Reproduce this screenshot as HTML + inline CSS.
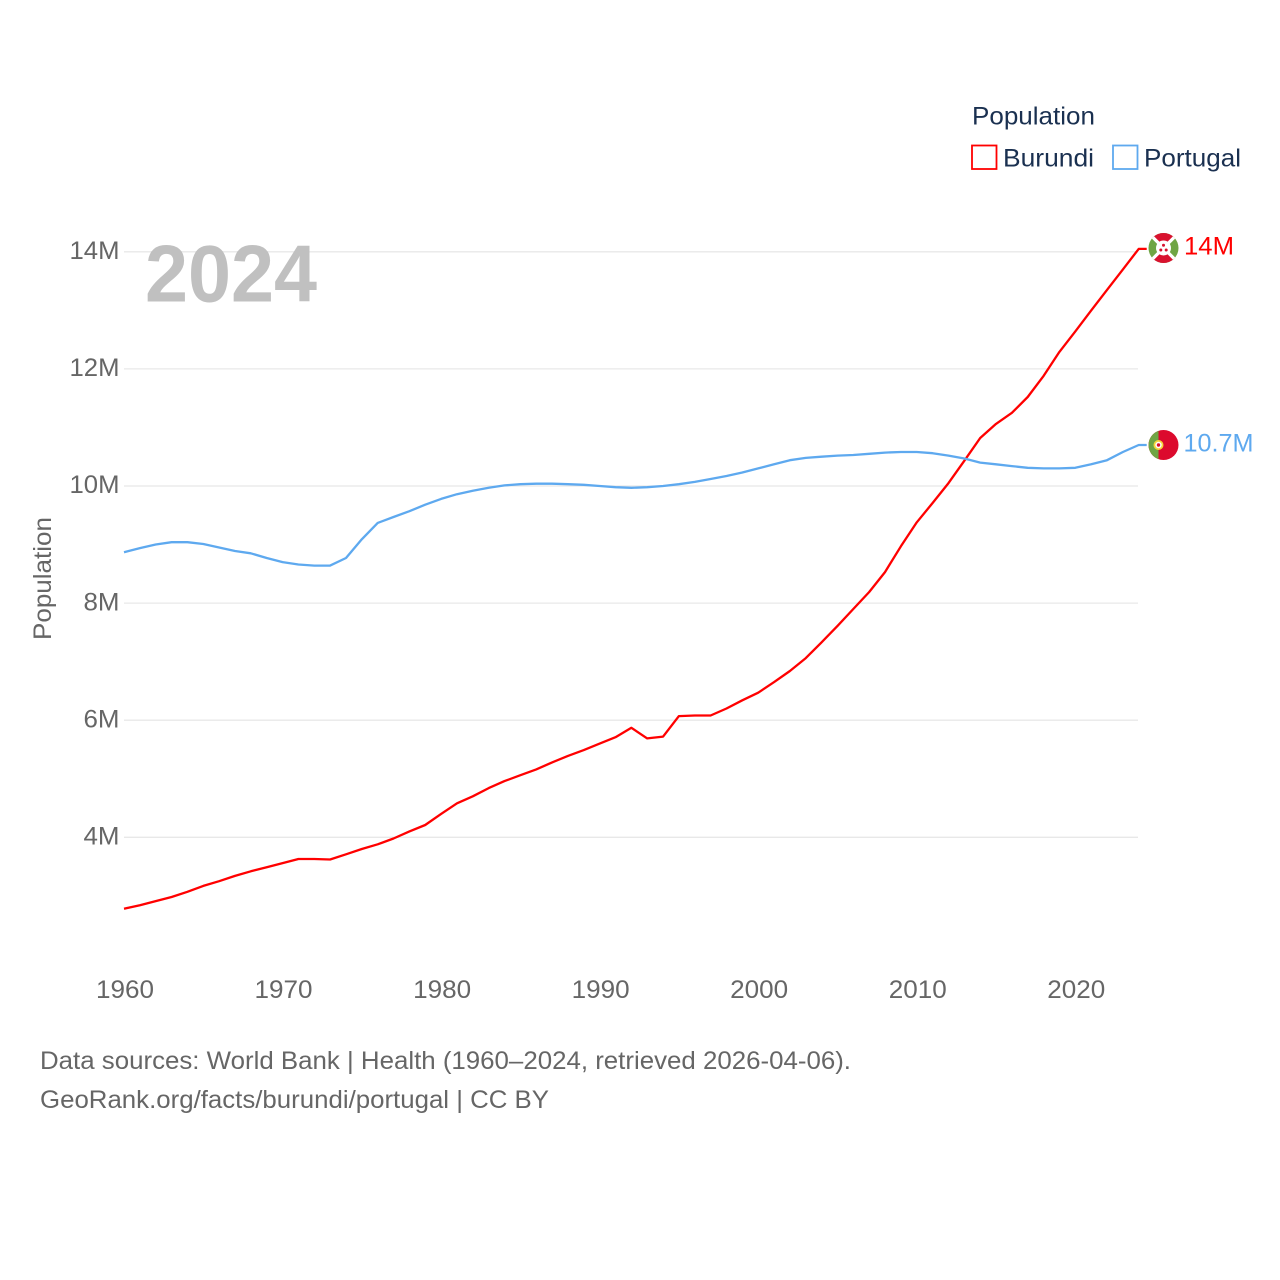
<!DOCTYPE html>
<html lang="en">
<head>
<meta charset="utf-8">
<title>Population: Burundi and Portugal</title>
<style>
html,body{margin:0;padding:0;background:#fff;}
svg{display:block;font-family:"Liberation Sans",sans-serif;}
</style>
</head>
<body>
<svg id="chart" xmlns="http://www.w3.org/2000/svg" width="1280" height="1280" viewBox="0 0 1280 1280">
  <defs>
    <clipPath id="clip-burundi"><circle cx="1163.500" cy="248" r="15"/></clipPath>
    <clipPath id="clip-portugal"><circle cx="1163.500" cy="445" r="15"/></clipPath>
  </defs>
  <rect width="1280" height="1280" fill="#fff"/>
  <g id="grid"></g>
  <text x="145" y="301.500" font-size="81" font-weight="700" fill="#bdbdbd" fill-opacity="0.95" textLength="172" lengthAdjust="spacingAndGlyphs">2024</text>
  <g id="y-axis"></g>
  <g id="x-axis"></g>
  <text transform="translate(51,640) rotate(-90)" font-size="25" fill="#666" textLength="123" lengthAdjust="spacingAndGlyphs">Population</text>
  <g id="series"></g>

  <g clip-path="url(#clip-burundi)">
    <rect x="1148" y="233" width="31" height="30" fill="#6fa544"/>
    <polygon points="1148.500,233 1178.500,233 1163.500,248" fill="#d9122f"/>
    <polygon points="1148.500,263 1178.500,263 1163.500,248" fill="#d9122f"/>
    <path d="M1148.500 233L1178.500 263M1178.500 233L1148.500 263" stroke="#fff" stroke-width="3.200"/>
    <circle cx="1163.500" cy="248" r="7.500" fill="#fff"/>
    <circle cx="1163.500" cy="245.200" r="1.500" fill="#d9122f"/>
    <circle cx="1160.800" cy="250" r="1.500" fill="#d9122f"/>
    <circle cx="1166.200" cy="250" r="1.500" fill="#d9122f"/>
  </g>
  <text x="1184" y="254.500" font-size="25" fill="#ff0000" textLength="50" lengthAdjust="spacingAndGlyphs">14M</text>

  <g clip-path="url(#clip-portugal)">
    <rect x="1148" y="430" width="31" height="30" fill="#dc0a2d"/>
    <rect x="1148" y="430" width="10.500" height="30" fill="#6fa544"/>
    <circle cx="1158.500" cy="445" r="5" fill="#f5d63d"/>
    <circle cx="1158.500" cy="445" r="3.200" fill="#fff"/>
    <circle cx="1158.500" cy="445" r="1.700" fill="#d9122f"/>
  </g>
  <text x="1183.500" y="451.500" font-size="25" fill="#5ea9ef" textLength="70" lengthAdjust="spacingAndGlyphs">10.7M</text>

  <g>
    <text x="972" y="124.500" font-size="25" fill="#1a3050" textLength="123" lengthAdjust="spacingAndGlyphs">Population</text>
    <rect x="972" y="145.500" width="24.500" height="23.500" fill="#fff" stroke="#ff0000" stroke-width="1.800"/>
    <text x="1003" y="166.500" font-size="25" fill="#1a3050" textLength="91" lengthAdjust="spacingAndGlyphs">Burundi</text>
    <rect x="1113" y="145.500" width="24.500" height="23.500" fill="#fff" stroke="#5ea9ef" stroke-width="1.800"/>
    <text x="1144" y="166.500" font-size="25" fill="#1a3050" textLength="97" lengthAdjust="spacingAndGlyphs">Portugal</text>
  </g>

  <text x="40" y="1069" font-size="25" fill="#666" textLength="811" lengthAdjust="spacingAndGlyphs">Data sources: World Bank | Health (1960–2024, retrieved 2026-04-06).</text>
  <text x="40" y="1108" font-size="25" fill="#666" textLength="509" lengthAdjust="spacingAndGlyphs">GeoRank.org/facts/burundi/portugal | CC BY</text>
</svg>
<script>
const startYear = 1960;
const burundiValues = [2.78,2.84,2.91,2.98,3.07,3.17,3.25,3.34,3.42,3.49,3.56,3.63,3.63,3.62,3.71,3.80,3.88,3.98,4.10,4.21,4.40,4.58,4.70,4.84,4.96,5.06,5.16,5.28,5.39,5.49,5.60,5.71,5.87,5.69,5.72,6.07,6.08,6.08,6.20,6.34,6.47,6.65,6.84,7.06,7.33,7.61,7.90,8.19,8.53,8.97,9.38,9.71,10.05,10.43,10.82,11.06,11.25,11.52,11.88,12.29,12.64,13.00,13.35,13.70,14.05];
const portugalValues = [8.87,8.94,9.00,9.04,9.04,9.01,8.95,8.89,8.85,8.77,8.70,8.66,8.64,8.64,8.77,9.09,9.37,9.47,9.57,9.68,9.78,9.86,9.92,9.97,10.01,10.03,10.04,10.04,10.03,10.02,10.00,9.98,9.97,9.98,10.00,10.03,10.07,10.12,10.17,10.23,10.30,10.37,10.44,10.48,10.50,10.52,10.53,10.55,10.57,10.58,10.58,10.56,10.52,10.47,10.40,10.37,10.34,10.31,10.30,10.30,10.31,10.37,10.44,10.58,10.70];
const yTicks = [4,6,8,10,12,14];
const yTickLabels = ['4M','6M','8M','10M','12M','14M'];
const xTicks = [1960,1970,1980,1990,2000,2010,2020];

const NS = 'http://www.w3.org/2000/svg';
function xScale(year){ return 124 + (year - 1960) * 15.855; }
function yScale(v){ return 486 + (10 - v) * 58.55; }
function make(tag, attrs, parent){
  const el = document.createElementNS(NS, tag);
  for (const k in attrs) el.setAttribute(k, attrs[k]);
  parent.appendChild(el);
  return el;
}

const grid = document.getElementById('grid');
const yAxis = document.getElementById('y-axis');
yTicks.forEach(function(t, i){
  const line = make('line', {x1:124, x2:1138, y1:yScale(t), y2:yScale(t), stroke:'#e8e8e8', 'stroke-width':1.3}, grid);
  
  
  const label = make('text', {x:119.500, y:yScale(t) + 7.200, 'text-anchor':'end', 'font-size':25, fill:'#666'}, yAxis);
  
  
  label.setAttribute('textLength', yTickLabels[i].length === 3 ? 50 : 36);
  label.setAttribute('lengthAdjust', 'spacingAndGlyphs');
  label.textContent = yTickLabels[i];
});

const xAxis = document.getElementById('x-axis');
xTicks.forEach(function(t){
  const label = make('text', {x:xScale(t) + 1, y:998, 'text-anchor':'middle', 'font-size':25, fill:'#666'}, xAxis);
  
  
  label.setAttribute('textLength', 58);
  label.setAttribute('lengthAdjust', 'spacingAndGlyphs');
  label.textContent = t;
});

const series = document.getElementById('series');
function linePoints(values){
  const pts = values.map(function(v, i){ return xScale(startYear + i).toFixed(1) + ',' + yScale(v).toFixed(1); });
  const last = values[values.length - 1];
  const lastYear = startYear + values.length - 1;
  pts.push((xScale(lastYear) + 8).toFixed(1) + ',' + yScale(last).toFixed(1));
  return pts.join(' ');
}
const burundiLine = make('polyline', {points:linePoints(burundiValues), fill:'none', stroke:'#ff0000', 'stroke-width':2.300, 'stroke-linejoin':'round'}, series);


const portugalLine = make('polyline', {points:linePoints(portugalValues), fill:'none', stroke:'#5ea9ef', 'stroke-width':2.300, 'stroke-linejoin':'round'}, series);


</script>
</body>
</html>
